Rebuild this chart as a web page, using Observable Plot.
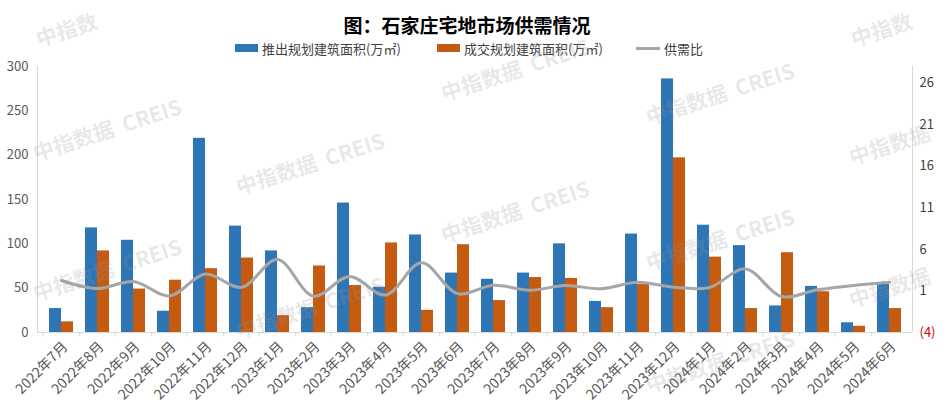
<!DOCTYPE html>
<html><head><meta charset="utf-8">
<script src="https://cdn.jsdelivr.net/npm/d3@7"></script>
<script src="https://cdn.jsdelivr.net/npm/@observablehq/plot@0.6"></script>
<style>
body{margin:0;background:#fff;font-family:"Noto Sans CJK SC","Noto Sans",sans-serif;}
#wrap{position:relative;width:949px;height:409px;overflow:hidden;background:#fff;}
#title{position:absolute;top:10px;left:0;width:934px;text-align:center;font-size:19px;font-weight:bold;color:#000;line-height:30px;}
.lg{position:absolute;top:39px;height:18px;display:flex;align-items:center;font-size:13px;color:#404040;white-space:nowrap;}
.sw{display:inline-block;margin-right:4px;}
#chart{position:absolute;left:0;top:56px;}
.wm{position:absolute;font-size:21px;font-weight:bold;color:rgba(150,150,150,0.22);transform:rotate(-18deg);transform-origin:left bottom;white-space:pre;pointer-events:none;line-height:24px;}
</style></head>
<body><div id="wrap">
<div id="title">图：石家庄宅地市场供需情况</div>
<div class="lg" style="left:235px"><span class="sw" style="width:23px;height:8px;background:#2e75b6"></span>推出规划建筑面积(万㎡)</div>
<div class="lg" style="left:437px"><span class="sw" style="width:23px;height:8px;background:#c55a11"></span>成交规划建筑面积(万㎡)</div>
<div class="lg" style="left:636px"><span class="sw" style="width:24px;height:3px;background:#a6a6a6"></span>供需比</div>
<div id="chart"></div>
</div>
<script>
const months = ["2022年7月","2022年8月","2022年9月","2022年10月","2022年11月","2022年12月","2023年1月","2023年2月","2023年3月","2023年4月","2023年5月","2023年6月","2023年7月","2023年8月","2023年9月","2023年10月","2023年11月","2023年12月","2024年1月","2024年2月","2024年3月","2024年4月","2024年5月","2024年6月"];
const supply = [27,118,104,24,219,120,92,28,146,51,110,67,60,67,100,35,111,286,121,98,30,52,11,55];
const deal = [12,92,49,59,72,84,19,75,53,101,25,99,36,62,61,28,54,197,85,27,90,46,7,27];
const ratio = [2.25,1.28,2.14,0.40,3.04,1.43,4.78,0.37,2.75,0.51,4.40,0.68,1.68,1.09,1.65,1.27,2.04,1.45,1.42,3.65,0.33,1.13,1.66,2.05];
const leftTicks = [0,50,100,150,200,250,300];
const rightTicks = [-4,1,6,11,16,21,26];
const rightDomain = [-4,28];

const rows = months.map((m,i)=>({month:m, supply:supply[i], deal:deal[i], ratio:ratio[i]}));
const toLeft = v => (v - rightDomain[0]) * 300 / (rightDomain[1]-rightDomain[0]);
const fromLeft = v => v * (rightDomain[1]-rightDomain[0]) / 300 + rightDomain[0];

const W = 949, H = 353, ML = 37, MR = 37;
const step = (W-ML-MR)/months.length;

const chart = Plot.plot({
  width: W, height: H, marginLeft: ML, marginRight: MR, marginTop: 10, marginBottom: 77,
  style: {fontFamily:'"Noto Sans CJK SC","Noto Sans",sans-serif', fontSize:"13px", color:"#595959", background:"transparent", overflow:"visible"},
  x: {domain: months, paddingInner: 0.34, paddingOuter: 0.17},
  y: {domain: [0,300]},
  marks: [
    Plot.ruleY([0], {stroke:"#d9d9d9"}),
    Plot.ruleX(months, {x: d=>d, dx: -step/2, y1: 0, y2: -5, stroke:"#d9d9d9"}),
    Plot.axisY({ticks: leftTicks, tickSize: 0, tickPadding: 9, label: null, fontSize: 13, fill:"#595959"}),
    Plot.axisY({anchor:"right", ticks: rightTicks.map(toLeft), tickSize: 0, tickPadding: 7, label: null, fontSize: 13, fill:"#404040",
      tickFormat: v => { const r = Math.round(fromLeft(v)); return r < 0 ? `(${-r})` : String(r); }}),
    Plot.axisX({tickRotate: -45, tickSize: 0, tickPadding: 12, dx: 4, label: null, fontSize: 14, fill:"#595959"}),
    Plot.barY(rows, {x:"month", y:"supply", fill:"#2e75b6", insetRight: 12}),
    Plot.barY(rows, {x:"month", y:"deal", fill:"#c55a11", insetLeft: 12}),
    Plot.line(rows, {x:"month", y: d => toLeft(d.ratio), stroke:"#a6a6a6", strokeWidth: 3, curve:"catmull-rom"})
  ]
});
document.getElementById("chart").appendChild(chart);
const svg = d3.select(chart);
svg.selectAll("text").filter(function(){ return this.textContent === "(4)"; }).attr("fill", "#e00000");
const y0 = 10, y1 = H - 77;
svg.append("line").attr("x1",ML+0.5).attr("x2",ML+0.5).attr("y1",y0).attr("y2",y1).attr("stroke","#d9d9d9");
svg.append("line").attr("x1",W-MR+0.5).attr("x2",W-MR+0.5).attr("y1",y0).attr("y2",y1).attr("stroke","#d9d9d9");

// watermarks
const wmPos = [[40,26,"中指数"],[855,26,"中指数"],[37,140,"中指数据  CREIS"],[37,280,"中指数据  CREIS"],[240,174,"中指数据  CREIS"],[240,318,"中指数据  CREIS"],[445,222,"中指数据  CREIS"],[650,104,"中指数据  CREIS"],[650,250,"中指数据  CREIS"],[650,372,"中指数据  CREIS"],[853,144,"中指数据"],[853,287,"中指数据"],[445,80,"中指数据  CREIS"]];
const wrap = document.getElementById("wrap");
for (const [x,y,t] of wmPos) {
  const d = document.createElement("div");
  d.className = "wm"; d.textContent = t;
  d.style.left = x + "px"; d.style.top = y + "px";
  wrap.appendChild(d);
}
</script>
</body></html>
